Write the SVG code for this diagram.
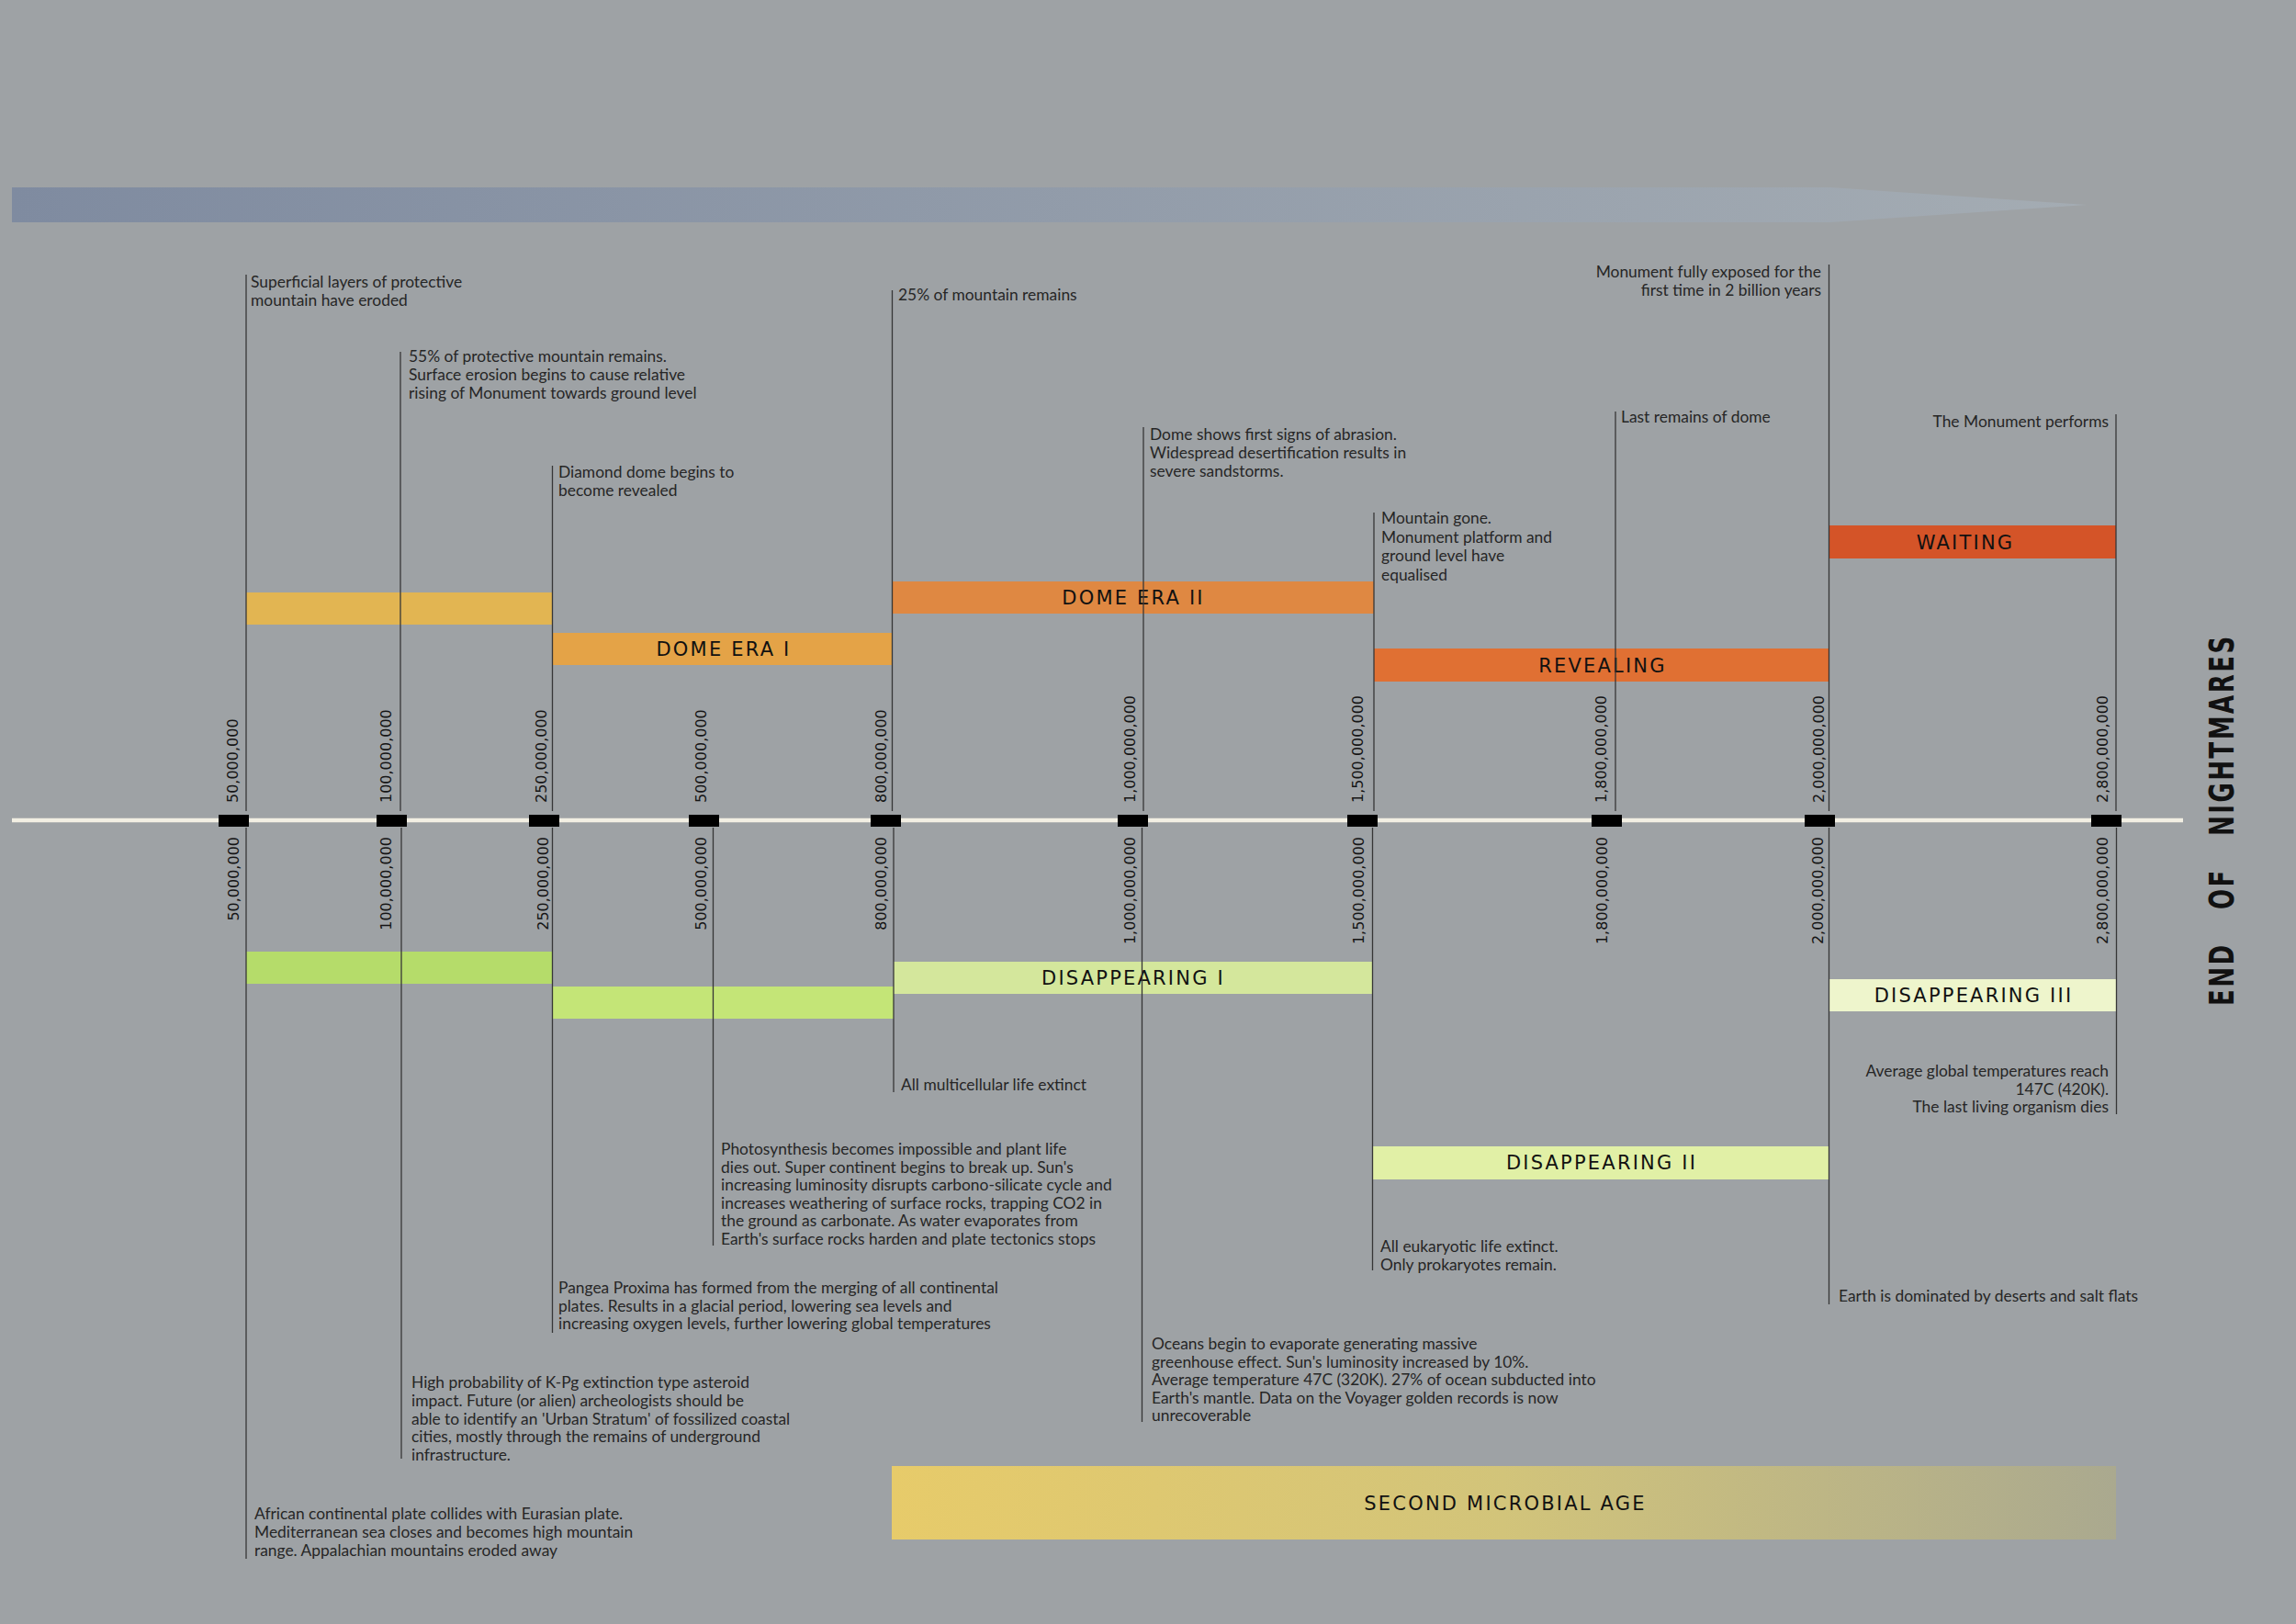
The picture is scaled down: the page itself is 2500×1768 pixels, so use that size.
<svg xmlns="http://www.w3.org/2000/svg" width="2500" height="1768" viewBox="0 0 2500 1768">
<defs>
<linearGradient id="arrowGrad" x1="0" y1="0" x2="1" y2="0">
<stop offset="0" stop-color="#7f8ba0"/>
<stop offset="1" stop-color="#a4acb3"/>
</linearGradient>
<linearGradient id="microGrad" x1="0" y1="0" x2="1" y2="0">
<stop offset="0" stop-color="#e7cb6a"/>
<stop offset="0.5" stop-color="#d2c47a"/>
<stop offset="1" stop-color="#aaa98f"/>
</linearGradient>
<style>
.note{font-family:Lato,"Liberation Sans",sans-serif;font-size:17.4px;fill:#262626}
.end{text-anchor:end}
.bar-label{font-family:"DejaVu Sans",sans-serif;font-size:21px;letter-spacing:2.2px;fill:#111;text-anchor:middle}
.tick-label{font-family:"DejaVu Sans",sans-serif;font-size:16px;fill:#151515}
.conn{stroke:#363636;stroke-width:1.3;fill:none}
.tick{fill:#000}
</style>
</defs>
<rect x="0" y="0" width="2500" height="1768" fill="#9ea2a5"/>

<g id="time-arrow">
<path d="M13,204 L1993,204 L2272,223 L1993,242 L13,242 Z" fill="url(#arrowGrad)"/>
</g>

<!-- bars -->
<g id="bar-upper-yellow"><rect x="268" y="645" width="334" height="35" fill="#e2b552"/></g>
<g id="bar-dome-era-1"><rect x="602" y="689" width="370" height="35" fill="#e4a347"/><text class="bar-label" x="788" y="714">DOME ERA I</text></g>
<g id="bar-dome-era-2"><rect x="972" y="633" width="524" height="35" fill="#df8842"/><text class="bar-label" x="1234" y="658">DOME ERA II</text></g>
<g id="bar-revealing"><rect x="1496" y="706" width="495" height="36" fill="#e07033"/><text class="bar-label" x="1745" y="732">REVEALING</text></g>
<g id="bar-waiting"><rect x="1991" y="572" width="313" height="36" fill="#d45428"/><text class="bar-label" x="2140" y="598">WAITING</text></g>

<g id="bar-lower-green-1"><rect x="268" y="1036" width="334" height="35" fill="#b5dc6a"/></g>
<g id="bar-lower-green-2"><rect x="602" y="1074" width="371" height="35" fill="#c4e577"/></g>
<g id="bar-disappearing-1"><rect x="973" y="1047" width="521" height="35" fill="#d4e79c"/><text class="bar-label" x="1234" y="1072">DISAPPEARING I</text></g>
<g id="bar-disappearing-3"><rect x="1992" y="1066" width="312" height="35" fill="#eef5cc"/><text class="bar-label" x="2149" y="1091">DISAPPEARING III</text></g>
<g id="bar-disappearing-2"><rect x="1494" y="1248" width="497" height="36" fill="#e1f0a6"/><text class="bar-label" x="1744" y="1273">DISAPPEARING II</text></g>
<g id="bar-second-microbial-age"><rect x="971" y="1596" width="1333" height="80" fill="url(#microGrad)"/><text class="bar-label" x="1639" y="1644">SECOND MICROBIAL AGE</text></g>

<!-- axis -->
<g id="axis">
<line x1="13" y1="893" x2="2377" y2="893" stroke="#f2efe3" stroke-width="4.5"/>
<rect class="tick" x="238" y="887" width="33" height="13"/>
<rect class="tick" x="410" y="887" width="33" height="13"/>
<rect class="tick" x="576" y="887" width="33" height="13"/>
<rect class="tick" x="750" y="887" width="33" height="13"/>
<rect class="tick" x="948" y="887" width="33" height="13"/>
<rect class="tick" x="1217" y="887" width="33" height="13"/>
<rect class="tick" x="1467" y="887" width="33" height="13"/>
<rect class="tick" x="1733" y="887" width="33" height="13"/>
<rect class="tick" x="1965" y="887" width="33" height="13"/>
<rect class="tick" x="2277" y="887" width="33" height="13"/>
</g>

<!-- connectors -->
<g id="connectors">
<line class="conn" x1="268" y1="299" x2="268" y2="883"/>
<line class="conn" x1="436" y1="383" x2="436" y2="883"/>
<line class="conn" x1="601.5" y1="507" x2="601.5" y2="883"/>
<line class="conn" x1="971.5" y1="316" x2="971.5" y2="883"/>
<line class="conn" x1="1245" y1="465" x2="1245" y2="883"/>
<line class="conn" x1="1496" y1="558" x2="1496" y2="883"/>
<line class="conn" x1="1759" y1="448" x2="1759" y2="883"/>
<line class="conn" x1="1991.5" y1="288" x2="1991.5" y2="883"/>
<line class="conn" x1="2304" y1="451" x2="2304" y2="883"/>

<line class="conn" x1="268" y1="901" x2="268" y2="1697"/>
<line class="conn" x1="437" y1="901" x2="437" y2="1588"/>
<line class="conn" x1="601.5" y1="901" x2="601.5" y2="1451"/>
<line class="conn" x1="776.5" y1="901" x2="776.5" y2="1356"/>
<line class="conn" x1="973" y1="901" x2="973" y2="1189"/>
<line class="conn" x1="1243.5" y1="901" x2="1243.5" y2="1548"/>
<line class="conn" x1="1494.5" y1="901" x2="1494.5" y2="1383"/>
<line class="conn" x1="1991.5" y1="901" x2="1991.5" y2="1420"/>
<line class="conn" x1="2304.5" y1="901" x2="2304.5" y2="1213"/>
</g>

<!-- tick labels upper -->
<g id="tick-labels-upper" class="tick-label">
<text transform="translate(259,874) rotate(-90)">50,000,000</text>
<text transform="translate(426,874) rotate(-90)">100,000,000</text>
<text transform="translate(595,874) rotate(-90)">250,000,000</text>
<text transform="translate(768.5,874) rotate(-90)">500,000,000</text>
<text transform="translate(965,874) rotate(-90)">800,000,000</text>
<text transform="translate(1235.5,874) rotate(-90)">1,000,000,000</text>
<text transform="translate(1484,874) rotate(-90)">1,500,000,000</text>
<text transform="translate(1749,874) rotate(-90)">1,800,000,000</text>
<text transform="translate(1985.5,874) rotate(-90)">2,000,000,000</text>
<text transform="translate(2295,874) rotate(-90)">2,800,000,000</text>
</g>
<g id="tick-labels-lower" class="tick-label" text-anchor="end">
<text transform="translate(260,911) rotate(-90)">50,000,000</text>
<text transform="translate(426,911) rotate(-90)">100,000,000</text>
<text transform="translate(597,911) rotate(-90)">250,000,000</text>
<text transform="translate(768.5,911) rotate(-90)">500,000,000</text>
<text transform="translate(965,911) rotate(-90)">800,000,000</text>
<text transform="translate(1236,911) rotate(-90)">1,000,000,000</text>
<text transform="translate(1485,911) rotate(-90)">1,500,000,000</text>
<text transform="translate(1750,911) rotate(-90)">1,800,000,000</text>
<text transform="translate(1985,911) rotate(-90)">2,000,000,000</text>
<text transform="translate(2295,911) rotate(-90)">2,800,000,000</text>
</g>

<!-- upper notes -->
<g id="note-superficial"><text class="note" x="273" y="313"><tspan x="273">Superficial layers of protective</tspan><tspan x="273" dy="20">mountain have eroded</tspan></text></g>
<g id="note-55"><text class="note" x="445" y="394"><tspan x="445">55% of protective mountain remains.</tspan><tspan x="445" dy="20">Surface erosion begins to cause relative</tspan><tspan x="445" dy="20">rising of Monument towards ground level</tspan></text></g>
<g id="note-diamond"><text class="note" x="608" y="520"><tspan x="608">Diamond dome begins to</tspan><tspan x="608" dy="20">become revealed</tspan></text></g>
<g id="note-25"><text class="note" x="978" y="327">25% of mountain remains</text></g>
<g id="note-abrasion"><text class="note" x="1252" y="479"><tspan x="1252">Dome shows first signs of abrasion.</tspan><tspan x="1252" dy="20">Widespread desertification results in</tspan><tspan x="1252" dy="20">severe sandstorms.</tspan></text></g>
<g id="note-mountain-gone"><text class="note" x="1504" y="570"><tspan x="1504">Mountain gone.</tspan><tspan x="1504" dy="20.5">Monument platform and</tspan><tspan x="1504" dy="20.5">ground level have</tspan><tspan x="1504" dy="20.5">equalised</tspan></text></g>
<g id="note-fully-exposed"><text class="note end" x="1983" y="302"><tspan x="1983">Monument fully exposed for the</tspan><tspan x="1983" dy="20">first time in 2 billion years</tspan></text></g>
<g id="note-last-remains"><text class="note" x="1765" y="460">Last remains of dome</text></g>
<g id="note-performs"><text class="note end" x="2296" y="465">The Monument performs</text></g>

<!-- lower notes -->
<g id="note-multicellular"><text class="note" x="981" y="1187">All multicellular life extinct</text></g>
<g id="note-photosynthesis"><text class="note" x="785" y="1257"><tspan x="785">Photosynthesis becomes impossible and plant life</tspan><tspan x="785" dy="19.6">dies out. Super continent begins to break up. Sun's</tspan><tspan x="785" dy="19.6">increasing luminosity disrupts carbono-silicate cycle and</tspan><tspan x="785" dy="19.6">increases weathering of surface rocks, trapping CO2 in</tspan><tspan x="785" dy="19.6">the ground as carbonate. As water evaporates from</tspan><tspan x="785" dy="19.6">Earth's surface rocks harden and plate tectonics stops</tspan></text></g>
<g id="note-pangea"><text class="note" x="608" y="1408"><tspan x="608">Pangea Proxima has formed from the merging of all continental</tspan><tspan x="608" dy="19.7">plates. Results in a glacial period, lowering sea levels and</tspan><tspan x="608" dy="19.7">increasing oxygen levels, further lowering global temperatures</tspan></text></g>
<g id="note-kpg"><text class="note" x="448" y="1511"><tspan x="448">High probability of K-Pg extinction type asteroid</tspan><tspan x="448" dy="19.8">impact. Future (or alien) archeologists should be</tspan><tspan x="448" dy="19.8">able to identify an 'Urban Stratum' of fossilized coastal</tspan><tspan x="448" dy="19.8">cities, mostly through the remains of underground</tspan><tspan x="448" dy="19.8">infrastructure.</tspan></text></g>
<g id="note-african"><text class="note" x="277" y="1654"><tspan x="277">African continental plate collides with Eurasian plate.</tspan><tspan x="277" dy="19.8">Mediterranean sea closes and becomes high mountain</tspan><tspan x="277" dy="19.8">range. Appalachian mountains eroded away</tspan></text></g>
<g id="note-oceans"><text class="note" x="1254" y="1469"><tspan x="1254">Oceans begin to evaporate generating massive</tspan><tspan x="1254" dy="19.6">greenhouse effect. Sun's luminosity increased by 10%.</tspan><tspan x="1254" dy="19.6">Average temperature 47C (320K). 27% of ocean subducted into</tspan><tspan x="1254" dy="19.6">Earth's mantle. Data on the Voyager golden records is now</tspan><tspan x="1254" dy="19.6">unrecoverable</tspan></text></g>
<g id="note-eukaryotic"><text class="note" x="1503" y="1363"><tspan x="1503">All eukaryotic life extinct.</tspan><tspan x="1503" dy="19.6">Only prokaryotes remain.</tspan></text></g>
<g id="note-deserts"><text class="note" x="2002" y="1417">Earth is dominated by deserts and salt flats</text></g>
<g id="note-temperatures"><text class="note end" x="2296" y="1172"><tspan x="2296">Average global temperatures reach</tspan><tspan x="2296" dy="19.5">147C (420K).</tspan><tspan x="2296" dy="19.5">The last living organism dies</tspan></text></g>

<g id="title-end-of-nightmares">
<text transform="translate(2432,1095) rotate(-90) scale(1,1.4)" font-family="'DejaVu Sans',sans-serif" font-weight="bold" font-size="26" letter-spacing="2.5" fill="#111"><tspan x="0">END</tspan><tspan x="105">OF</tspan><tspan x="185">NIGHTMARES</tspan></text>
</g>
</svg>
